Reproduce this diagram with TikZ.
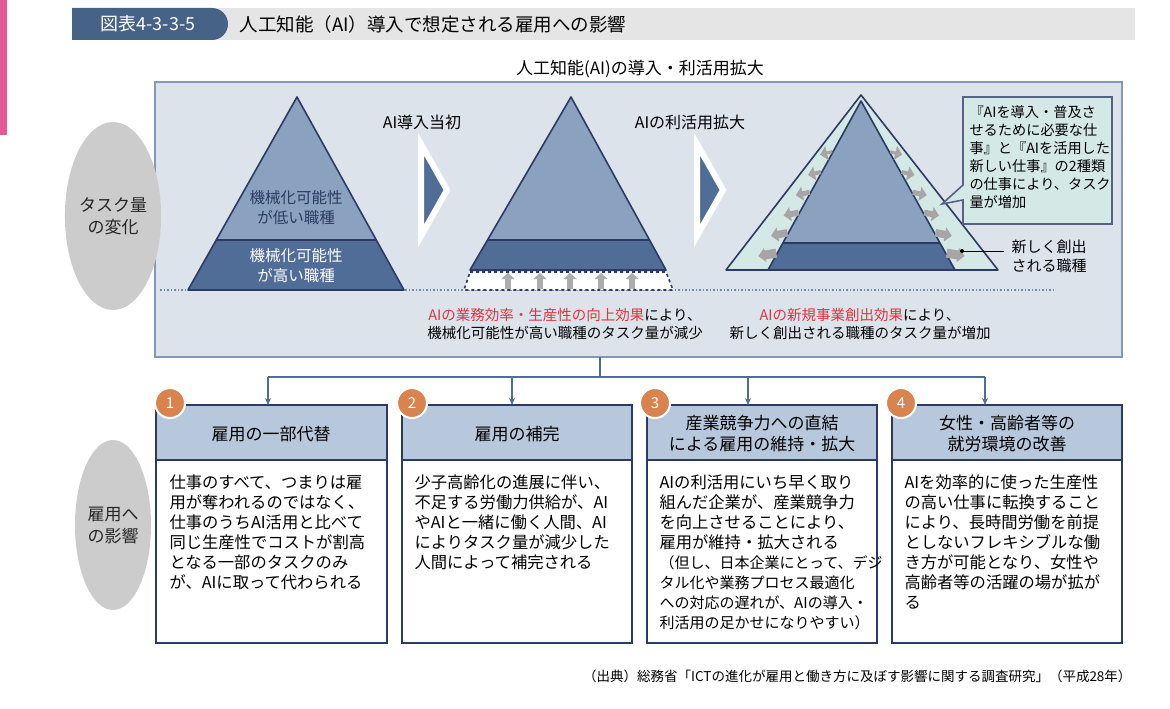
\documentclass[tikz,border=0pt]{standalone}
\usepackage{fontspec}
\setmainfont{Noto Sans CJK JP}
\usetikzlibrary{positioning,arrows.meta,shapes.geometric}
\definecolor{navy}{HTML}{2C3B63}
\definecolor{midblue}{HTML}{4F6D96}
\definecolor{liteblue}{HTML}{8AA2BF}
\definecolor{panel}{HTML}{DDE3EA}
\definecolor{teal}{HTML}{D4E8E6}
\definecolor{hdr}{HTML}{B8C8DC}
\definecolor{badge}{HTML}{D9844E}
\definecolor{redtxt}{HTML}{D9363E}
\tikzset{
  pyr/.style={draw=navy,line width=1.6pt,line join=round},
  chev/.style={fill=midblue,draw=white,line width=6pt,line join=miter},
  garrow/.style={-{Triangle[length=7pt,width=14pt]},gray!70},
  oval/.style={ellipse,inner sep=0pt,fill=gray!40,minimum width=76pt,minimum height=188pt,align=center,font=\fontsize{17}{22}\selectfont,text=gray!30!black},
  bodytxt/.style={anchor=north west,align=left,font=\fontsize{16.3}{20}\selectfont},
  headtxt/.style={align=center,font=\fontsize{17}{21}\selectfont},
  num/.style={circle,fill=badge,draw=white,line width=2pt,minimum size=30pt,text=white,font=\fontsize{15}{15}\selectfont},
  link/.style={-{Stealth[length=7pt,width=6pt]},draw=midblue,line width=1.2pt}
}
\begin{document}
\begin{tikzpicture}[x=1pt,y=-1pt]
    \useasboundingbox (0,0) rectangle (1170,709);
    % Side strip and title bar
    \fill[magenta!60!purple!70] (0,0) rectangle (7,135);
    \fill[gray!20] (72,8) rectangle (1135,40);
    \fill[midblue!90!black] (72,8) -- (212,8) arc[start angle=-90,end angle=90,radius=16] -- (72,40) -- cycle;
    \node[text=white,font=\fontsize{18}{18}\selectfont] (fig) at (148,24) {図表4-3-3-5};
    \node[anchor=west,font=\fontsize{18.5}{18}\selectfont] (title) at (236,24) {人工知能（AI）導入で想定される雇用への影響};

    % Upper panel
    \node[font=\fontsize{17}{17}\selectfont] (sub) at (640,69) {人工知能(AI)の導入・利活用拡大};
    \draw[fill=panel,draw=midblue!70,line width=1.2pt] (155,82) rectangle (1122,357);
    \coordinate (pb) at (600,357);
    \node[oval] (task) at (113,216) {タスク量\\の変化};
    \draw[dotted,line width=1.5pt,midblue!80] (160,290) -- (1055,290);

    % Pyramid 1
    \begin{scope}
      \clip (297,97) -- (404,290) -- (188,290) -- cycle;
      \fill[liteblue] (180,90) rectangle (410,240);
      \fill[midblue] (180,240) rectangle (410,295);
      \draw[pyr] (180,240) -- (410,240);
    \end{scope}
    \draw[pyr] (297,97) -- (404,290) -- (188,290) -- cycle;
    \node[headtxt,text=navy,font=\fontsize{15.5}{20}\selectfont] (low) at (296,208) {機械化可能性\\が低い職種};
    \node[headtxt,text=white,font=\fontsize{15.5}{20}\selectfont] (high) at (296,266) {機械化可能性\\が高い職種};

    % Chevron 1
    \node[font=\fontsize{16}{16}\selectfont] (step1) at (422,122) {AI導入当初};
    \draw[chev] (421,144) -- (447,190) -- (421,236) -- cycle;

    % Pyramid 2
    \begin{scope}
      \clip (571,97) -- (666,270) -- (470,270) -- cycle;
      \fill[liteblue] (460,90) rectangle (680,240);
      \fill[midblue] (460,240) rectangle (680,275);
      \draw[pyr] (460,240) -- (680,240);
    \end{scope}
    \draw[pyr] (571,97) -- (666,270) -- (470,270) -- cycle;
    \draw[dashed,navy,line width=1.6pt,fill=white] (470,272) -- (666,272) -- (673,290) -- (464,290) -- cycle;
    \foreach \x in {508,540,570,601,632}
      \draw[-{Triangle[length=6pt,width=13pt]},line width=5.5pt,gray!65] (\x,289) -- (\x,273);

    % Chevron 2
    \node[font=\fontsize{16}{16}\selectfont] (step2) at (690,122) {AIの利活用拡大};
    \draw[chev] (697,144) -- (723,190) -- (697,236) -- cycle;

    % Pyramid 3
    \draw[pyr,fill=teal] (861,95) -- (998,270) -- (726,270) -- cycle;
    \begin{scope}
      \clip (861,101) -- (955,270) -- (768,270) -- cycle;
      \fill[liteblue] (760,95) rectangle (960,243);
      \fill[midblue] (760,243) rectangle (960,275);
      \draw[pyr] (760,243) -- (960,243);
    \end{scope}
    \draw[pyr] (861,101) -- (955,270) -- (768,270) -- cycle;
    \foreach \t/\s in {0.3/3,0.42/4,0.54/5,0.66/6,0.78/7.5,0.9/9}{
      \path (861,101) -- (768,270) coordinate[pos=\t] (lp);
      \draw[garrow,line width=\s pt] ([xshift=-1pt]lp) -- ++(-9-\s,3);
      \path (861,101) -- (955,270) coordinate[pos=\t] (rp);
      \draw[garrow,line width=\s pt] ([xshift=1pt]rp) -- ++(9+\s,3);
    }
    \draw[fill=teal,draw=navy!80,line width=1.6pt] (963,97) -- (1112,97) -- (1112,224) -- (963,224) -- (963,200) -- (942,204) -- (963,185) -- cycle;
    \node[bodytxt,font=\fontsize{14.2}{18}\selectfont] (note) at (966,102)
      {『AIを導入・普及さ\\せるために必要な仕\\事』と『AIを活用した\\新しい仕事』の2種類\\の仕事により、タスク\\量が増加};
    \fill[black] (962,251) circle (2);
    \node[anchor=west,align=left,font=\fontsize{15}{19}\selectfont] (newjob) at (1008,256) {新しく創出\\される職種};
    \draw[thick] (962,251) -- (1004,251);

    % Effect captions
    \node[align=center,font=\fontsize{14.5}{18}\selectfont] (eff1) at (565,324)
      {\textcolor{redtxt}{AIの業務効率・生産性の向上効果}により、\\機械化可能性が高い職種のタスク量が減少};
    \node[align=center,font=\fontsize{14.5}{18}\selectfont] (eff2) at (860,324)
      {\textcolor{redtxt}{AIの新規事業創出効果}により、\\新しく創出される職種のタスク量が増加};

    % Lower boxes
    \node[oval,minimum height=170pt] (emp) at (113,525) {雇用へ\\の影響};
    \coordinate (bus) at (600,377);
    \draw[midblue,line width=1.2pt] (pb) -- (bus) (268,377) -- (985,377);
    \foreach \i/\xl/\xr/\cx/\bx in {1/156/387/268/170,2/402/632/512/412,3/647/877/748/655,4/892/1122/985/901}{
      \fill[hdr] (\xl,405) rectangle (\xr,460);
      \draw[navy,line width=1.6pt] (\xl,405) rectangle (\xr,643) (\xl,460) -- (\xr,460);
      \coordinate (top\i) at (\cx,405);
      \draw[link] (\cx,377) -- (top\i);
      \node[num] (n\i) at (\bx,403) {\i};
    }
    \node[headtxt] (h1) at (271,434) {雇用の一部代替};
    \node[headtxt] (h2) at (517,434) {雇用の補完};
    \node[headtxt] (h3) at (762,434) {産業競争力への直結\\による雇用の維持・拡大};
    \node[headtxt] (h4) at (1007,434) {女性・高齢者等の\\就労環境の改善};
    \node[bodytxt] (b1) at (166,471) {仕事のすべて、つまりは雇\\用が奪われるのではなく、\\仕事のうちAI活用と比べて\\同じ生産性でコストが割高\\となる一部のタスクのみ\\が、AIに取って代わられる};
    \node[bodytxt] (b2) at (411,471) {少子高齢化の進展に伴い、\\不足する労働力供給が、AI\\やAIと一緒に働く人間、AI\\によりタスク量が減少した\\人間によって補完される};
    \node[bodytxt] (b3) at (656,471) {AIの利活用にいち早く取り\\組んだ企業が、産業競争力\\を向上させることにより、\\雇用が維持・拡大される\\{\fontsize{15}{20}\selectfont（但し、日本企業にとって、デジ}\\{\fontsize{15}{20}\selectfont タル化や業務プロセス最適化}\\{\fontsize{15}{20}\selectfont への対応の遅れが、AIの導入・}\\{\fontsize{15}{20}\selectfont 利活用の足かせになりやすい）}};
    \node[bodytxt] (b4) at (901,471) {AIを効率的に使った生産性\\の高い仕事に転換すること\\により、長時間労働を前提\\としないフレキシブルな働\\き方が可能となり、女性や\\高齢者等の活躍の場が拡が\\る};

    % Source
    \node[anchor=east,font=\fontsize{13.5}{13}\selectfont] (src) at (1135,676) {（出典）総務省「ICTの進化が雇用と働き方に及ぼす影響に関する調査研究」（平成28年）};
\end{tikzpicture}
\end{document}
